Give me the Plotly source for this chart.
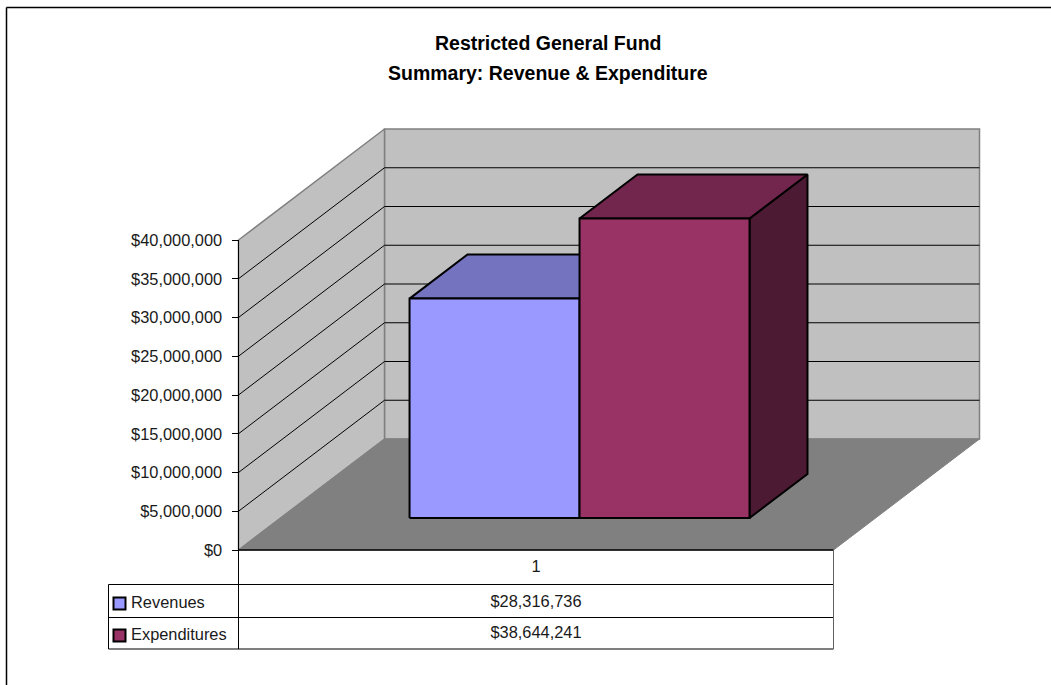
import plotly.graph_objects as go

categories = ["1"]
series_names = ["Revenues", "Expenditures"]
revenues = [28316736]
expenditures = [38644241]
value_ticks = [0, 5000000, 10000000, 15000000, 20000000, 25000000, 30000000, 35000000, 40000000]
title_lines = ["Restricted General Fund", "Summary: Revenue & Expenditure"]
value_max = value_ticks[-1]

W, H = 1051, 685
X0, Y0 = 238.5, 550.0
XSPAN = 595.0
DX, DY = 146.0, -111.0
PX_PER_VALUE = 310.0 / value_max


def project(u, d, v):
    """u: 0-1 along the category axis, d: 0-1 in depth, v: value."""
    return X0 + u * XSPAN + d * DX, Y0 + d * DY - v * PX_PER_VALUE


def poly(points, fill, line="black", width=1.0, close=True):
    pts = [project(*p) for p in points]
    if close:
        pts.append(pts[0])
    return go.Scatter(
        x=[p[0] for p in pts], y=[p[1] for p in pts], mode="lines",
        fill="toself" if fill else None, fillcolor=fill,
        line=dict(color=line, width=width), hoverinfo="skip", showlegend=False,
    )


def segment(x, y, color="black", width=1.0):
    return go.Scatter(x=x, y=y, mode="lines", line=dict(color=color, width=width),
                      hoverinfo="skip", showlegend=False)


fig = go.Figure()
# Walls and floor
fig.add_trace(poly([(0, 1, 0), (1, 1, 0), (1, 1, value_max), (0, 1, value_max)], "#C0C0C0", "#808080", 1.5))
fig.add_trace(poly([(0, 0, 0), (0, 1, 0), (0, 1, value_max), (0, 0, value_max)], "#C0C0C0", "#808080", 1.5))
fig.add_trace(poly([(0, 0, 0), (1, 0, 0), (1, 1, 0), (0, 1, 0)], "#808080", "#808080", 1.0))

# Gridlines
for v in value_ticks[1:-1]:
    fig.add_trace(poly([(0, 0, v), (0, 1, v), (1, 1, v)], None, "black", 1.0, close=False))

# Bars
GAP = 0.2168
BAR_W = 0.2857
D0, D1 = 0.288, 0.685
specs = [
    (revenues[0], GAP, "#9999FF", "#7373BF", "#4C4C80"),
    (expenditures[0], GAP + BAR_W, "#993366", "#73264D", "#4C1A33"),
]
for val, u0, front, top, side in specs:
    u1 = u0 + BAR_W
    fig.add_trace(poly([(u1, D0, 0), (u1, D1, 0), (u1, D1, val), (u1, D0, val)], side, "black", 2))
    fig.add_trace(poly([(u0, D0, val), (u1, D0, val), (u1, D1, val), (u0, D1, val)], top, "black", 2))
    fig.add_trace(poly([(u0, D0, 0), (u1, D0, 0), (u1, D0, val), (u0, D0, val)], front, "black", 2))

# Value axis line
fig.add_trace(segment([X0, X0], [project(0, 0, value_max)[1], Y0]))

# Data table
ROW_Y = [550, 584.5, 617.5, 649]
TABLE_L, TABLE_M, TABLE_R = 108.5, 238.5, 833.5
fig.add_trace(segment([TABLE_M, TABLE_R], [ROW_Y[0]] * 2, "black", 1.5))
for y in ROW_Y[1:]:
    fig.add_trace(segment([TABLE_L, TABLE_R], [y, y]))
fig.add_trace(segment([TABLE_L, TABLE_L], [ROW_Y[1], ROW_Y[3]]))
fig.add_trace(segment([TABLE_M, TABLE_M], [Y0, ROW_Y[3]]))
fig.add_trace(segment([TABLE_R, TABLE_R], [ROW_Y[0], ROW_Y[3]], "#606060", 1.0))

TXT = dict(family="Liberation Sans", size=16.4, color="#1a1a1a")
mid_x = (TABLE_M + TABLE_R) / 2
cells = [
    (categories[0], 567.5),
    (f"${revenues[0]:,.0f}", 602.5),
    (f"${expenditures[0]:,.0f}", 633.5),
]
for text, y in cells:
    fig.add_trace(go.Scatter(x=[mid_x], y=[y], mode="text", text=[text], textposition="middle center",
                             textfont=TXT, hoverinfo="skip", showlegend=False))
for name, color, y in zip(series_names, ["#9999FF", "#993366"], [603.5, 635.5]):
    fig.add_trace(go.Scatter(x=[119.5], y=[y], mode="markers",
                             marker=dict(symbol="square", size=12, color=color, line=dict(color="black", width=2)),
                             hoverinfo="skip", showlegend=False))
    fig.add_trace(go.Scatter(x=[131], y=[y], mode="text", text=[name], textposition="middle right",
                             textfont=TXT, hoverinfo="skip", showlegend=False))

TITLE_FONT = dict(family="Liberation Sans", size=19.5, color="black", weight="bold")
fig.update_layout(
    width=W, height=H, autosize=False,
    margin=dict(l=0, r=0, t=0, b=0),
    paper_bgcolor="white", plot_bgcolor="rgba(0,0,0,0)",
    xaxis=dict(range=[0, W], visible=False, domain=[0, 1], fixedrange=True),
    yaxis=dict(
        range=[H, 0], domain=[0, 1], fixedrange=True, anchor="free", position=X0 / W, side="left",
        tickmode="array",
        tickvals=[project(0, 0, v)[1] for v in value_ticks],
        ticktext=[f"${v:,.0f}" for v in value_ticks],
        ticks="outside", ticklen=7, tickcolor="black", tickwidth=1, ticklabelstandoff=6,
        showline=False, showgrid=False, zeroline=False, tickfont=TXT,
    ),
    shapes=[dict(type="line", xref="x", yref="y", x0=6.5, y0=7.5, x1=1051, y1=7.5,
                 line=dict(color="black", width=1.5), layer="below"),
            dict(type="line", xref="x", yref="y", x0=6.5, y0=7.5, x1=6.5, y1=685,
                 line=dict(color="black", width=1.5), layer="below")],
    annotations=[
        dict(text=title_lines[0], xref="x", yref="y", x=548, y=43, showarrow=False, font=TITLE_FONT,
             yanchor="middle", xanchor="center"),
        dict(text=title_lines[1], xref="x", yref="y", x=548, y=73, showarrow=False, font=TITLE_FONT,
             yanchor="middle", xanchor="center"),
    ],
)
fig.write_html("out.html", config=dict(displayModeBar=False),
               post_script="document.documentElement.style.overflow='hidden';document.body.style.margin='0';")
